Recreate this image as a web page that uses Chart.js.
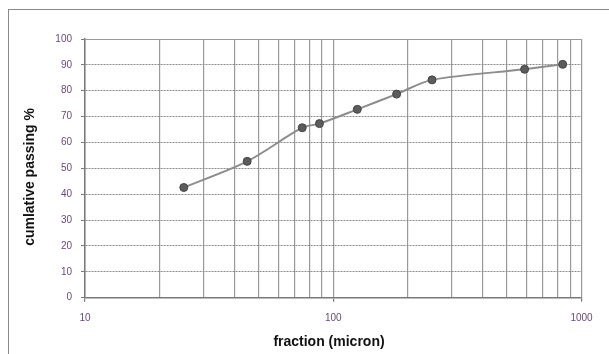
<!DOCTYPE html>
<html>
<head>
<meta charset="utf-8">
<script src="https://cdn.jsdelivr.net/npm/chart.js@4"></script>
<style>
  html, body { margin: 0; padding: 0; background: #fff; }
  #wrap { position: relative; width: 609px; height: 354px; overflow: hidden; }
  #frame { position: absolute; left: 8px; top: 9px; width: 620px; height: 360px; border: 1.5px solid #8a8a8a; }
  canvas { position: absolute; left: 0; top: 0; }
</style>
</head>
<body>
<div id="wrap">
  <div id="frame"></div>
  <canvas id="grading" width="609" height="354"></canvas>
</div>
<script>
// datos
const sizes = [25, 45, 75, 88, 125, 180, 250, 590, 840];       // micron
const passing = [42.6, 52.7, 65.7, 67.3, 72.8, 78.7, 84.2, 88.3, 90.2]; // %
const xGridValues = [10, 20, 30, 40, 50, 60, 70, 80, 90, 100, 200, 300, 400, 500, 600, 700, 800, 900, 1000];
const xTickLabels = [10, 100, 1000];
const yTickLabels = [0, 10, 20, 30, 40, 50, 60, 70, 80, 90, 100];

const tickFont = { family: 'Arial, "Liberation Sans", sans-serif', size: 10 };
const tickColor = '#6a4a78';

// titulos de los ejes dibujados a mano
const axisTitles = {
    id: 'axisTitles',
    afterDraw(chart) {
        const c = chart.ctx;
        c.save();
        c.fillStyle = '#111';
        c.font = 'bold 14px Arial, "Liberation Sans", sans-serif';
        c.textAlign = 'center';
        c.textBaseline = 'middle';
        c.fillText('fraction (micron)', 329, 342);
        c.translate(30, 177);
        c.rotate(-Math.PI / 2);
        c.fillText('cumlative passing %', 0, 0);
        c.restore();
    }
};

new Chart(document.getElementById('grading'), {
    type: 'line',
    data: {
        datasets: [{
            data: sizes.map((s, i) => ({ x: s, y: passing[i] })),
            borderColor: '#8c8c8c',
            borderWidth: 2,
            tension: 0.3,
            pointRadius: 4,
            pointBackgroundColor: '#5c5c5c',
            pointBorderColor: '#444',
            pointBorderWidth: 1,
            fill: false
        }]
    },
    options: {
        responsive: false,
        animation: false,
        layout: { padding: { top: 39, right: 27.5, left: 0, bottom: 0 } },
        plugins: { legend: { display: false }, tooltip: { enabled: false } },
        scales: {
            x: {
                type: 'logarithmic',
                min: 10,
                max: 1000,
                afterBuildTicks: (scale) => { scale.ticks = xGridValues.map(v => ({ value: v })); },
                afterFit: (scale) => { scale.height = 56.3; },
                ticks: {
                    autoSkip: false,
                    maxRotation: 0,
                    padding: 11,
                    font: tickFont,
                    color: tickColor,
                    callback: (v) => xTickLabels.includes(v) ? String(v) : ''
                },
                grid: {
                    color: '#999999',
                    lineWidth: 1.2,
                    tickLength: 4,
                    tickColor: (ctx) => xTickLabels.includes(ctx.tick && ctx.tick.value) ? '#7a7a7a' : 'rgba(0,0,0,0)'
                },
                border: { color: '#7a7a7a', width: 1.5 }
            },
            y: {
                min: 0,
                max: 100,
                afterBuildTicks: (scale) => { scale.ticks = yTickLabels.map(v => ({ value: v })); },
                afterFit: (scale) => { scale.width = 85; },
                ticks: { padding: 9, font: tickFont, color: tickColor },
                grid: {
                    color: (ctx) => ctx.tick && ctx.tick.value === 100 ? '#999999' : '#8a8a8a',
                    lineWidth: 1,
                    tickLength: 4,
                    tickColor: '#7a7a7a'
                },
                border: {
                    color: '#7a7a7a',
                    width: 1.5,
                    dash: (ctx) => ctx.tick && ctx.tick.value === 100 ? [] : [2, 1]
                }
            }
        }
    },
    plugins: [axisTitles]
});
</script>
</body>
</html>
